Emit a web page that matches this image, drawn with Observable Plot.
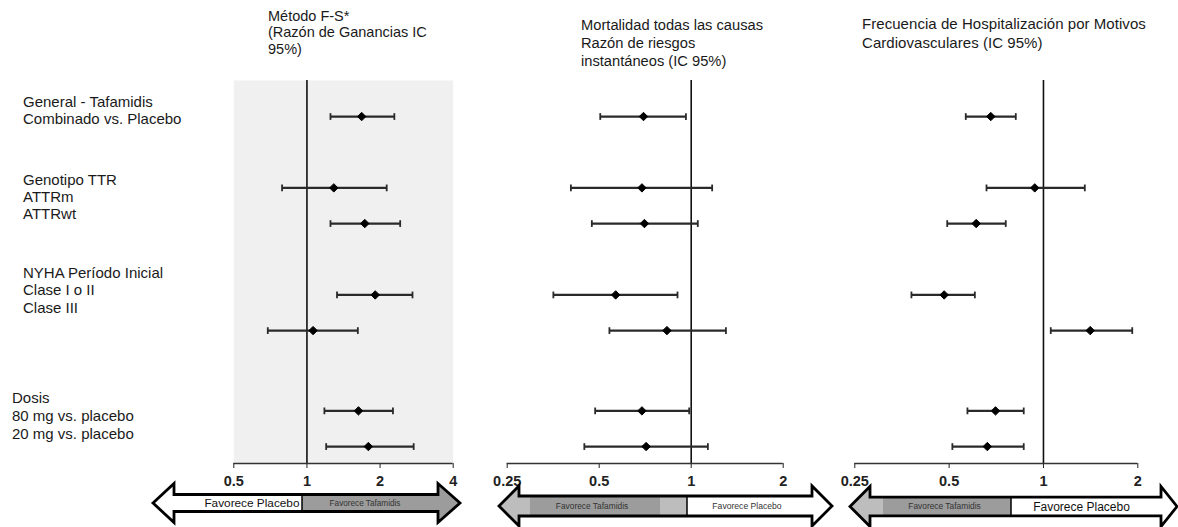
<!DOCTYPE html>
<html>
<head>
<meta charset="utf-8">
<script src="https://cdn.jsdelivr.net/npm/d3@7"></script>
<script src="https://cdn.jsdelivr.net/npm/@observablehq/plot@0.6"></script>
<style>
  html, body { margin: 0; padding: 0; background: #fff; }
  #root { position: relative; width: 1178px; height: 527px; overflow: hidden; font-family: "Liberation Sans", Arial, sans-serif; color: #1a1a1a; }
  .txt { position: absolute; white-space: nowrap; }
  .panel { position: absolute; top: 0; }
</style>
</head>
<body>
<div id="root"></div>
<script>
// ---------- data ----------
const groupLabels = [
  ["General - Tafamidis", "Combinado vs. Placebo"],
  ["Genotipo TTR", "ATTRm", "ATTRwt"],
  ["NYHA Período Inicial", "Clase I o II", "Clase III"],
  ["Dosis", "80 mg vs. placebo", "20 mg vs. placebo"]
];
const rowNames = ["Combinado vs. Placebo", "ATTRm", "ATTRwt", "Clase I o II", "Clase III", "80 mg vs. placebo", "20 mg vs. placebo"];
const rowSlot = [0, 2, 3, 5, 6, 8.25, 9.25];

const titles = [
  ["Método F-S*", "(Razón de Ganancias IC", "95%)"],
  ["Mortalidad todas las causas", "Razón de riesgos", "instantáneos (IC 95%)"],
  ["Frecuencia de Hospitalización por Motivos", "Cardiovasculares (IC 95%)"]
];

// Panel 1: Método F-S (razón de ganancias)
const fsEst = [1.68, 1.29, 1.73, 1.91, 1.06, 1.63, 1.79];
const fsLo  = [1.25, 0.79, 1.25, 1.33, 0.69, 1.18, 1.20];
const fsHi  = [2.29, 2.13, 2.42, 2.72, 1.62, 2.26, 2.75];
// Panel 2: Mortalidad todas las causas (HR)
const mortEst = [0.698, 0.690, 0.703, 0.566, 0.833, 0.690, 0.712];
const mortLo  = [0.504, 0.404, 0.473, 0.354, 0.540, 0.485, 0.447];
const mortHi  = [0.961, 1.171, 1.051, 0.902, 1.299, 0.985, 1.134];
// Panel 3: Hospitalización CV
const hospEst = [0.679, 0.938, 0.610, 0.482, 1.41, 0.703, 0.662];
const hospLo  = [0.565, 0.658, 0.493, 0.379, 1.055, 0.572, 0.512];
const hospHi  = [0.816, 1.355, 0.758, 0.604, 1.92, 0.865, 0.865];

const ticks1 = [0.5, 1, 2, 4];
const ticks23 = [0.25, 0.5, 1, 2];
const favPlacebo = "Favorece Placebo";
const favTafamidis = "Favorece Tafamidis";

// ---------- layout ----------
const root = document.getElementById("root");
function addText(lines, left, top, size, lh, ls) {
  const d = document.createElement("div");
  d.className = "txt";
  d.style.left = left + "px";
  d.style.top = top + "px";
  d.style.fontSize = size + "px";
  d.style.lineHeight = lh + "px";
  if (ls) d.style.letterSpacing = ls + "px";
  d.innerHTML = lines.map(s => s.replace(/&/g, "&amp;").replace(/</g, "&lt;")).join("<br>");
  root.appendChild(d);
}

// titles
addText(titles[0], 268, 7.5, 14.5, 16.5);
addText(titles[1], 581, 16, 14.7, 18);
addText(titles[2], 862, 14, 15, 19, 0.05);
// row labels
addText(groupLabels[0], 23, 92.5, 15, 17.6);
addText(groupLabels[1], 23, 171.3, 15, 17.1);
addText(groupLabels[2], 23, 263.5, 15, 17.8);
addText(groupLabels[3], 12, 388.5, 15, 18.1);

const yDomain = [-1.01, 9.725];
const capSym = {
  draw(ctx, size) {
    const h = Math.sqrt(size) / 2;
    ctx.moveTo(0, -h);
    ctx.lineTo(0, h);
  }
};

function panel(cfg) {
  const data = rowSlot.map((s, i) => ({row: rowNames[i], slot: s, est: cfg.est[i], lo: cfg.lo[i], hi: cfg.hi[i]}));
  const svg = Plot.plot({
    width: cfg.width,
    height: 527,
    marginLeft: cfg.mL,
    marginRight: cfg.mR,
    marginTop: 80,
    marginBottom: 64,
    style: {fontFamily: "'Liberation Sans', Arial, sans-serif", fontSize: "14.5px", fontWeight: "bold", color: "#222", background: "transparent", overflow: "visible"},
    x: {type: "log", domain: cfg.domain, ticks: cfg.ticks, tickFormat: d => String(d), tickSize: 5, tickPadding: 7, label: null},
    y: {domain: yDomain, reverse: true, axis: null},
    marks: [
      cfg.shade ? Plot.frame({fill: "#f0f0f0", stroke: null}) : null,
      Plot.ruleX([1], {stroke: "#111", strokeWidth: 1.6}),
      Plot.ruleY([yDomain[1]], {stroke: "#333", strokeWidth: 1.6}),
      Plot.link(data, {x1: "lo", x2: "hi", y1: "slot", y2: "slot", stroke: "#2a2a2a", strokeWidth: 2.2}),
      Plot.dot(data, {x: "lo", y: "slot", symbol: capSym, r: 3.8, fill: "none", stroke: "#2a2a2a", strokeWidth: 1.8}),
      Plot.dot(data, {x: "hi", y: "slot", symbol: capSym, r: 3.8, fill: "none", stroke: "#2a2a2a", strokeWidth: 1.8}),
      Plot.dot(data, {x: "est", y: "slot", symbol: "diamond2", r: 3.8, fill: "#000", stroke: "#000", strokeWidth: 1})
    ]
  });
  svg.classList.add("panel");
  svg.style.left = cfg.left + "px";
  svg.style.position = "absolute";
  root.appendChild(svg);
  drawArrow(svg, cfg.left, cfg.arrow, cfg.id);
  return svg;
}

// decorative double arrow under each panel (annotation, page px)
function drawArrow(svg, left, a, id) {
  const g = d3.select(svg).append("g").attr("aria-label", "arrow");
  const X = v => v - left;
  const {x0, b0, b1, x1, cy, h, H} = a;
  const pts = [
    [x0, cy], [b0, cy - H], [b0, cy - h], [b1, cy - h], [b1, cy - H], [x1, cy],
    [b1, cy + H], [b1, cy + h], [b0, cy + h], [b0, cy + H]
  ].map(([x, y]) => [X(x), y]);
  const path = "M" + pts.map(p => p.join(",")).join("L") + "Z";
  g.append("clipPath").attr("id", "clip" + id).append("path").attr("d", path);
  const fg = g.append("g").attr("clip-path", `url(#clip${id})`);
  for (const [f, t, c] of a.fills) {
    fg.append("rect").attr("x", X(f)).attr("width", t - f).attr("y", cy - H - 2).attr("height", 2 * H + 4).attr("fill", c);
  }
  g.append("line").attr("x1", X(a.split)).attr("x2", X(a.split)).attr("y1", cy - h).attr("y2", cy + h).attr("stroke", "#000").attr("stroke-width", 1.5);
  g.append("path").attr("d", path).attr("fill", "none").attr("stroke", "#000").attr("stroke-width", 2.8).attr("stroke-linejoin", "miter");
  for (const t of a.texts) {
    g.append("text").attr("x", X(t.x)).attr("y", cy).attr("dy", "0.35em")
      .attr("text-anchor", t.anchor).attr("font-size", t.size).attr("font-weight", "normal")
      .attr("fill", t.color).text(t.text);
  }
}

panel({
  id: 1, left: 140, width: 330, mL: 93.3, mR: 17.3, domain: [0.5, 4], ticks: ticks1,
  est: fsEst, lo: fsLo, hi: fsHi, shade: true,
  arrow: {x0: 153, b0: 174, b1: 438, x1: 460, cy: 503, h: 8.5, H: 19.5, split: 302,
    fills: [[150, 302, "#ffffff"], [302, 462, "#9c9c9c"]],
    texts: [
      {text: favPlacebo, x: 299.5, anchor: "end", size: 11.8, color: "#111"},
      {text: favTafamidis, x: 365, anchor: "middle", size: 8.2, color: "#333"}
    ]}
});
panel({
  id: 2, left: 480, width: 360, mL: 26.7, mR: 57.3, domain: [0.25, 2], ticks: ticks23,
  est: mortEst, lo: mortLo, hi: mortHi, shade: false,
  arrow: {x0: 499, b0: 519, b1: 812, x1: 832, cy: 506, h: 10, H: 20, split: 687,
    fills: [[496, 530, "#bdbdbd"], [530, 660, "#9c9c9c"], [660, 687, "#bdbdbd"], [687, 835, "#ffffff"]],
    texts: [
      {text: favTafamidis, x: 592, anchor: "middle", size: 8.4, color: "#333"},
      {text: favPlacebo, x: 747, anchor: "middle", size: 8.6, color: "#333"}
    ]}
});
panel({
  id: 3, left: 840, width: 338, mL: 14.3, mR: 40.7, domain: [0.25, 2], ticks: ticks23,
  est: hospEst, lo: hospLo, hi: hospHi, shade: false,
  arrow: {x0: 850, b0: 870, b1: 1161, x1: 1177, cy: 506.5, h: 9.3, H: 20, split: 1011,
    fills: [[847, 883, "#bdbdbd"], [883, 1011, "#9c9c9c"], [1011, 1180, "#ffffff"]],
    texts: [
      {text: favTafamidis, x: 944.5, anchor: "middle", size: 8.4, color: "#333"},
      {text: favPlacebo, x: 1081.5, anchor: "middle", size: 12, color: "#111"}
    ]}
});
</script>
</body>
</html>
